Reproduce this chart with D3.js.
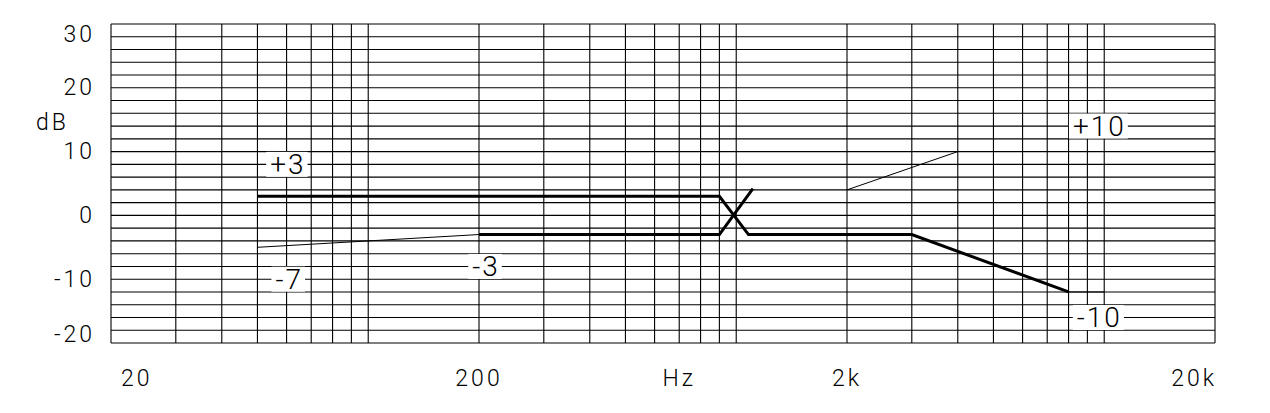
<!DOCTYPE html>
<html>
<head>
<meta charset="utf-8">
<script src="https://cdn.jsdelivr.net/npm/d3@7"></script>
<style>
  html, body { margin: 0; padding: 0; background: #fff; }
  svg { display: block; }
  text { font-family: Roboto, "Open Sans", "DejaVu Sans", sans-serif; font-weight: 300; fill: #000; }
</style>
</head>
<body>
<svg id="chart" width="1270" height="413"></svg>
<script>
// ---- data ----
const freqGrid = [20,30,40,50,60,70,80,90,100,200,300,400,500,600,700,800,900,1000,2000,3000,4000,5000,6000,7000,8000,9000,10000,20000];
const dbGrid = d3.range(-20, 31, 2);
const dbTicks = [30, 20, 10, 0, -10, -20];
const dbTickText = ["30", "20", "10", "0", "-10", "-20"];
const freqTicks = [20, 200, 2000, 20000];
const freqTickText = ["20", "200", "2k", "20k"];

// thick curves: [Hz, dB]
const curveA = [[50, 3], [900, 3], [1080, -3], [3000, -3], [8000, -12]];
const curveB = [[200, -3], [900, -3], [1110, 4.2]];
// thin curves
const thin1 = [[50, -5], [200, -3]];
const thin2 = [[2000, 4], [4000, 10]];
const thin3 = [[8000, -12], [10000, -12]];

// curve labels: text, Hz, dB
const labelText = ["+3", "-7", "-3", "+10", "-10"];
const labelHz = [60.5, 61, 209, 9700, 9700];
const labelDb = [8, -10, -8, 14, -16];

// ---- layout ----
const svg = d3.select("#chart");
const x = d3.scaleLog().domain([20, 20000]).range([111, 1215]);
const y = d3.scaleLinear().domain([-20, 30]).range([343, 24]);

// grid
const grid = svg.append("g");
grid.selectAll("line.v").data(freqGrid).join("line")
  .attr("x1", d => x(d)).attr("x2", d => x(d))
  .attr("y1", y(30)).attr("y2", y(-20))
  .attr("stroke", "#000").attr("stroke-width", 1.1);
grid.selectAll("line.h").data(dbGrid).join("line")
  .attr("y1", d => y(d)).attr("y2", d => y(d))
  .attr("x1", x(20)).attr("x2", x(20000))
  .attr("stroke", "#000").attr("stroke-width", 1.1);

// curves
const line = d3.line().x(d => x(d[0])).y(d => y(d[1]));
const curves = svg.append("g").attr("fill", "none").attr("stroke", "#000");
[thin1, thin2, thin3].forEach(c => curves.append("path").attr("d", line(c)).attr("stroke-width", 1));
[curveA, curveB].forEach(c => curves.append("path").attr("d", line(c)).attr("stroke-width", 3).attr("stroke-linejoin", "miter"));

// curve labels with white boxes
const lab = svg.append("g");
labelText.forEach((t, i) => {
  const g = lab.append("g");
  const tx = g.append("text")
    .attr("x", x(labelHz[i])).attr("y", y(labelDb[i]))
    .attr("text-anchor", "middle").attr("dominant-baseline", "central")
    .style("font-size", "28px").style("letter-spacing", "2px")
    .text(t);
  const bb = tx.node().getBBox();
  g.insert("rect", "text")
    .attr("x", bb.x - 4).attr("y", y(labelDb[i]) - 12.5)
    .attr("width", bb.width + 6).attr("height", 25)
    .attr("fill", "#fff");
});

// y-axis tick labels
const yl = svg.append("g");
dbTicks.forEach((d, i) => {
  let yy = y(d);
  if (d === 30) yy = y(28.4);
  if (d === -20) yy = y(-18.6);
  yl.append("text").attr("x", 95).attr("y", yy)
    .attr("text-anchor", "end").attr("dominant-baseline", "central")
    .style("font-size", "23px").style("letter-spacing", "3px")
    .text(dbTickText[i]);
});
yl.append("text").attr("x", 36).attr("y", y(14.6))
  .attr("dominant-baseline", "central")
  .style("font-size", "23px").style("letter-spacing", "3px")
  .text("dB");

// x-axis tick labels
const xl = svg.append("g");
freqTicks.forEach((f, i) => {
  let anchor = "middle", xx = x(f);
  if (i === 0) { anchor = "start"; xx = x(f) + 10; }
  if (i === freqTicks.length - 1) { anchor = "end"; xx = x(f) + 2; }
  xl.append("text").attr("x", xx).attr("y", 378)
    .attr("text-anchor", anchor).attr("dominant-baseline", "central")
    .style("font-size", "23px").style("letter-spacing", "3px")
    .text(freqTickText[i]);
});
xl.append("text").attr("x", x(700)).attr("y", 378)
  .attr("text-anchor", "middle").attr("dominant-baseline", "central")
  .style("font-size", "23px").style("letter-spacing", "3px")
  .text("Hz");
</script>
</body>
</html>
